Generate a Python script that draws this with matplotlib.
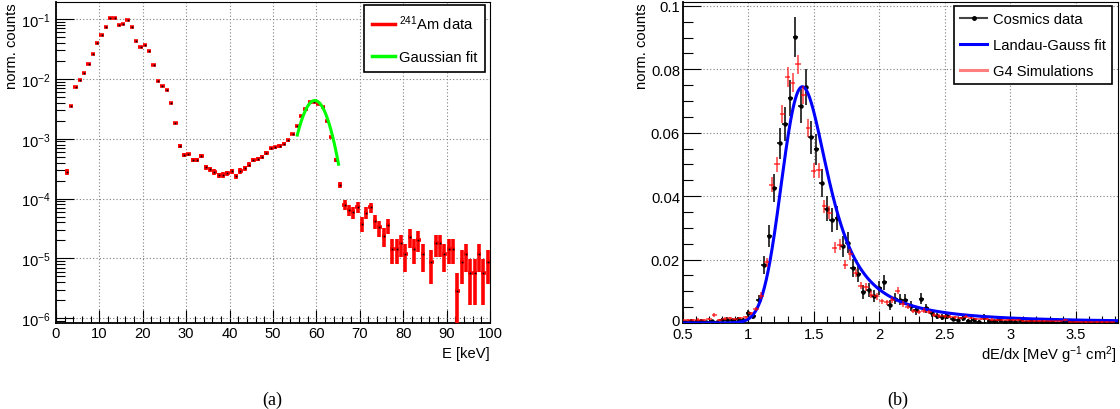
import numpy as np
import matplotlib
matplotlib.use("Agg")
import matplotlib.pyplot as plt
from matplotlib.lines import Line2D
from matplotlib.transforms import ScaledTranslation
from matplotlib.ticker import MultipleLocator, LogLocator, NullFormatter, FuncFormatter, FixedLocator

plt.rcParams['font.family'] = ['Liberation Sans', 'DejaVu Sans']
plt.rcParams['mathtext.fontset'] = 'custom'
plt.rcParams['mathtext.rm'] = 'Liberation Sans'
plt.rcParams['mathtext.it'] = 'Liberation Sans:italic'
plt.rcParams['mathtext.bf'] = 'Liberation Sans:bold'
plt.rcParams['mathtext.sf'] = 'Liberation Sans'

# ---------------- (a) 241Am spectrum ----------------
am_bin_start = 2.5      # keV, first bin centre
am_bin_width = 1.0      # keV
am_counts = [
    2.8e-4, 3.5e-3, 7.2e-3, 9.6e-3, 1.24e-2, 1.76e-2, 2.6e-2, 3.9e-2, 5.3e-2, 7.3e-2,
    0.103, 0.103, 0.0785, 0.0816, 0.095, 0.073, 0.0425, 0.0337, 0.0365, 0.029,
    0.0169, 9.2e-3, 7.55e-3, 6.5e-3, 3.94e-3, 1.83e-3, 7.55e-4, 5.4e-4, 5.45e-4, 4.4e-4,
    4.4e-4, 5.2e-4, 3.37e-4, 3.13e-4, 2.8e-4, 2.45e-4, 2.5e-4, 2.64e-4, 2.85e-4, 2.35e-4,
    2.9e-4, 3.25e-4, 3.7e-4, 4.4e-4, 4.55e-4, 4.9e-4, 5.8e-4, 6.9e-4, 7.2e-4, 7.55e-4,
    8.25e-4, 9.5e-4, 1.2e-3, 1.63e-3, 2.39e-3, 3.1e-3, 4.1e-3, 4.15e-3, 3.85e-3, 3.4e-3,
    1.94e-3, 1.07e-3, 4.4e-4, 1.7e-4, 7.9e-5, 6.55e-5, 5.9e-5, 7.3e-5, 3.8e-5, 5.85e-5,
    7.1e-5, 4.2e-5, 3.3e-5, 2.36e-5, 3.55e-5, 1.45e-5, 1.45e-5, 1.78e-5, 1.17e-5, 2.3e-5,
    1.45e-5, 2.05e-5, 1.17e-5, np.nan, 8.8e-6, 1.78e-5, 1.78e-5, 1.17e-5, 1.45e-5, 1.45e-5,
    2.9e-6, 8.8e-6, 1.17e-5, 5.8e-6, 5.8e-6, 1.17e-5, 5.8e-6, 8.8e-6,
]
am_unit_weight = 2.9e-6   # normalised weight of one count (Poisson errors)

gaus_amp = 4.35e-3
gaus_mean = 59.63
gaus_sigma = 2.47
gaus_range = (55.6, 65.1)

# ---------------- (b) cosmics dE/dx ----------------
bin_width_b = 0.04
cosmics_start = 0.52
cosmics_counts = [
    0.0003, 0.0006, 0.0004, 0.0007, 0.0002, 0.0005, 0.0003, 0.0009, 0.0011, 0.0008,
    0.0012, 0.0010, 0.0030, 0.0022, 0.0072, 0.0184, 0.0274, 0.0425, 0.0566, 0.0627,
    0.0709, 0.0902, 0.0684, 0.0743, 0.0585, 0.0548, 0.0442, 0.0360, 0.0326, 0.0330,
    0.0242, 0.0253, 0.0174, 0.0155, 0.0098, 0.0105, 0.0086, 0.0110, 0.0128, 0.0058,
    0.0077, 0.0074, 0.0074, 0.0054, 0.0040, 0.0077, 0.0047, 0.0030, 0.0021, 0.0018,
    0.0022, 0.0012, 0.0008, 0.0015, 0.0006, 0.0010, 0.0004, 0.0018, 0.0007, 0.0005,
    0.0011, 0.0003, 0.0006, 0.0004, 0.0007, 0.0002, 0.0005, 0.0003, 0.0004, 0.0002,
    0.0003, 0.0001, 0.0004, 0.0002, 0.0003, 0.0001, 0.0002, 0.0002, 0.0001, 0.0002,
    0.0001, 0.0001, 0.0001,
]
cosmics_unit_weight = 4.4e-4

g4_start = 0.50
g4_counts = [
    0.0008, 0.0009, 0.0010, 0.0011, 0.0009, 0.0012, 0.0025, 0.0010, 0.0014, 0.0015,
    0.0013, 0.0016, 0.0018, 0.0030, 0.0044, 0.0086, 0.0191, 0.0436, 0.0500, 0.0660,
    0.0776, 0.0758, 0.0815, 0.0719, 0.0615, 0.0480, 0.0481, 0.0368, 0.0347, 0.0237,
    0.0247, 0.0184, 0.0216, 0.0158, 0.0118, 0.0114, 0.0089, 0.0084, 0.0068, 0.0065,
    0.0072, 0.0102, 0.0060, 0.0052, 0.0037, 0.0035, 0.0039, 0.0034, 0.0026, 0.0022,
    0.0021, 0.0019, 0.0018, 0.0016, 0.0019, 0.0016, 0.0013, 0.0013, 0.0012, 0.0011,
    0.0010, 0.0010, 0.0009, 0.0008, 0.0008, 0.0007, 0.0007, 0.0006, 0.0006, 0.0006,
    0.0005, 0.0005, 0.0005, 0.0009, 0.0004, 0.0004, 0.0004, 0.0003, 0.0003, 0.0003,
    0.0003, 0.0003, 0.0002,
]
g4_unit_weight = 1.2e-4

# Landau (x) Gauss fit parameters
lg_mpv = 1.37
lg_width = 0.075
lg_sigma = 0.11
lg_peak = 0.0745

W, H = 1120, 410
fig = plt.figure(figsize=(W / 100, H / 100), dpi=100)
axL = fig.add_axes([56 / W, 1 - 324 / H, (490 - 56) / W, (324 - 3) / H])
axR = fig.add_axes([682.7 / W, 1 - 324 / H, (1118.3 - 682.7) / W, (324 - 3) / H])

FS = 10.6
GRID = dict(color='#7f7f7f', linestyle=(0, (1, 2)), linewidth=0.8)

# ---------- left panel ----------
axL.set_yscale('log')
am_y = np.array(am_counts, dtype=float)
am_x = am_bin_start + am_bin_width * np.arange(len(am_y))
am_err = np.sqrt(am_y * am_unit_weight)
am_lo = np.minimum(am_err, am_y * (1 - 1e-6))
axL.errorbar(am_x, am_y, xerr=am_bin_width / 2, yerr=[am_lo, am_err], fmt='s', ms=1.2, mew=0,
             mfc='k', mec='k', ecolor='#ff0000', elinewidth=2.6, capsize=0, zorder=3)
gx = np.linspace(gaus_range[0], gaus_range[1], 300)
axL.plot(gx, gaus_amp * np.exp(-0.5 * ((gx - gaus_mean) / gaus_sigma) ** 2),
         color='#00ff00', lw=2.2, zorder=4)

axL.set_xlim(0, 100)
axL.set_ylim(8.35e-7, 0.192)
axL.set_axisbelow(True)
axL.grid(True, which='major', **GRID)
axL.xaxis.set_major_locator(MultipleLocator(10))
axL.xaxis.set_minor_locator(MultipleLocator(2))
axL.yaxis.set_major_locator(LogLocator(base=10, numticks=20))
axL.yaxis.set_minor_locator(LogLocator(base=10, subs=np.arange(2, 10), numticks=20))
axL.yaxis.set_minor_formatter(NullFormatter())
axL.yaxis.set_major_formatter(FuncFormatter(lambda v, p: r'$10^{%d}$' % int(round(np.log10(v)))))
axL.tick_params(axis='y', which='major', direction='in', length=13, width=0.8, pad=4, labelsize=FS)
axL.tick_params(axis='y', which='minor', direction='in', length=6.5, width=0.8)
axL.tick_params(axis='x', which='major', direction='in', length=9.4, width=0.8, pad=2.5, labelsize=FS)
axL.tick_params(axis='x', which='minor', direction='in', length=4.7, width=0.8)

leg = axL.legend(handles=[Line2D([], [], color='#ff0000', lw=2.5), Line2D([], [], color='#00ff00', lw=2.5)],
                 labels=['$^{241}$Am data', 'Gaussian fit'], loc='upper right',
                 bbox_to_anchor=(485.3 / W, 1 - 6 / H), bbox_transform=fig.transFigure,
                 borderaxespad=0, fancybox=False, edgecolor='k', framealpha=1, fontsize=FS,
                 handlelength=1.56, handletextpad=0.25, labelspacing=1.27, borderpad=0.55)
leg.get_frame().set_linewidth(1.2)

# ---------- right panel ----------
cy = np.array(cosmics_counts)
cx = cosmics_start + bin_width_b * np.arange(len(cy))
gy = np.array(g4_counts)
gxx = g4_start + bin_width_b * np.arange(len(gy))

axR.errorbar(cx, cy, xerr=bin_width_b / 2, yerr=np.sqrt(cy * cosmics_unit_weight), fmt='o', ms=2.2,
             color='k', ecolor='k', elinewidth=1.1, capsize=0, zorder=3)

# Landau convolved with Gauss
step = 0.002
xg = np.arange(-0.5, 5.5, step)
mpc = lg_mpv + 0.22278298 * lg_width
lam = (xg - mpc) / lg_width
t = np.linspace(1e-9, 25, 20001)
dt = t[1] - t[0]
lan = np.zeros_like(lam)
ok = np.where(lam > -6)[0]
for i0 in range(0, len(ok), 150):
    idx = ok[i0:i0 + 150]
    arg = np.outer(lam[idx], t) + t * np.log(t)
    lan[idx] = np.sum(np.exp(-np.pi * t / 2) * np.cos(arg), axis=1) * dt / np.pi
lan = np.clip(lan, 0, None)
kx = np.arange(-6 * lg_sigma, 6 * lg_sigma + step / 2, step)
kern = np.exp(-0.5 * (kx / lg_sigma) ** 2)
conv = np.convolve(lan, kern, mode='same')
conv = conv / conv.max() * lg_peak
sel = (xg >= 0.5) & (xg <= 3.83)
axR.plot(xg[sel], conv[sel], color='#0000ff', lw=2.2, zorder=4)

axR.errorbar(gxx, gy, xerr=bin_width_b / 2, yerr=np.sqrt(gy * g4_unit_weight), fmt='none',
             ecolor=(1, 0, 0, 0.7), elinewidth=1.2, capsize=0, zorder=5)

axR.set_xlim(0.5, 3.825)
axR.set_ylim(0, 0.1012)
axR.set_axisbelow(True)
axR.grid(True, which='major', **GRID)
axR.set_xticks([0.5, 1, 1.5, 2, 2.5, 3, 3.5])
axR.set_yticks([0, 0.02, 0.04, 0.06, 0.08, 0.1])
axR.xaxis.set_minor_locator(MultipleLocator(0.1))
axR.yaxis.set_minor_locator(MultipleLocator(0.005))
axR.xaxis.set_major_formatter(FuncFormatter(lambda v, p: '%g' % v))
axR.yaxis.set_major_formatter(FuncFormatter(lambda v, p: '%g' % round(v, 3)))
axR.tick_params(axis='y', which='major', direction='in', length=13, width=0.8, pad=2, labelsize=FS)
axR.tick_params(axis='y', which='minor', direction='in', length=7.2, width=0.8)
axR.tick_params(axis='x', which='major', direction='in', length=8.6, width=0.8, pad=3, labelsize=FS)
axR.tick_params(axis='x', which='minor', direction='in', length=5, width=0.8)

legR = axR.legend(handles=[Line2D([], [], color='#444444', lw=1.5, marker='o', ms=2.5, mfc='k', mec='k'),
                           Line2D([], [], color='#0000ff', lw=2.2),
                           Line2D([], [], color=(1, 0, 0, 0.5), lw=2.2)],
                  labels=['Cosmics data', 'Landau-Gauss fit', 'G4 Simulations'], loc='upper right',
                  bbox_to_anchor=(1112.3 / W, 1 - 6.7 / H), bbox_transform=fig.transFigure,
                  borderaxespad=0, fancybox=False, edgecolor='k', framealpha=1, fontsize=FS,
                  handlelength=1.88, handletextpad=0.41, labelspacing=0.83, borderpad=0.41)
legR.get_frame().set_linewidth(1.2)

for ax in (axL, axR):
    ax.spines['left'].set_linewidth(1.3)
    ax.spines['bottom'].set_linewidth(1.3)
    ax.spines['top'].set_linewidth(0.8)
    ax.spines['right'].set_linewidth(0.8)

fig.text(12 / W, 1 - 3 / H, 'norm. counts', rotation=90, ha='center', va='top', fontsize=FS)
fig.text(642 / W, 1 - 3 / H, 'norm. counts', rotation=90, ha='center', va='top', fontsize=FS)
fig.text(490 / W, 1 - 354 / H, 'E [keV]', ha='right', va='center', fontsize=FS)
fig.text(1117 / W, 1 - 355 / H, 'dE/dx [MeV g$^{-1}$ cm$^{2}$]', ha='right', va='center', fontsize=FS)
fig.text(272 / W, 1 - 400 / H, '(a)', ha='center', va='center', fontsize=13, family='Liberation Serif')
fig.text(898 / W, 1 - 400 / H, '(b)', ha='center', va='center', fontsize=13, family='Liberation Serif')

# lift the "0" label of panel (b) slightly so it does not collide with "0.5"
fig.canvas.draw()
for lab in axR.yaxis.get_majorticklabels():
    if lab.get_text() == '0':
        lab.set_transform(lab.get_transform() + ScaledTranslation(0, 4 / 100, fig.dpi_scale_trans))

fig.savefig('out.png', dpi=100)
